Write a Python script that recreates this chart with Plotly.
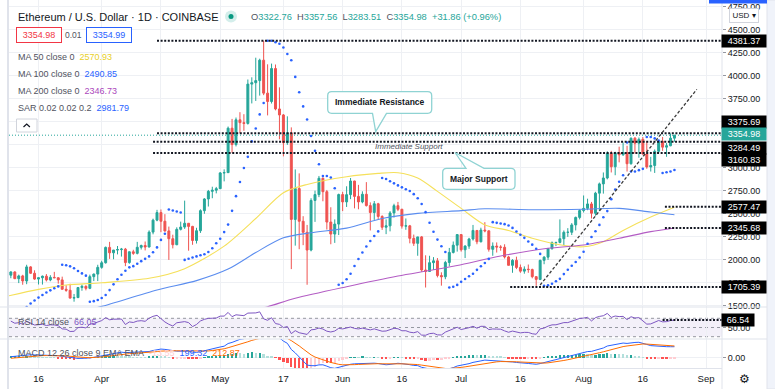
import numpy as np
import pandas as pd
import plotly.graph_objects as go

# ---------------- data ----------------
FIRST_DAY = "2021-03-09"

open_ = [
    1834, 1869, 1796, 1826, 1771, 1924, 1855, 1792, 1806, 1823, 1782, 1810, 1806, 1783, 1681, 1670, 1585, 1590, 1700, 1713, 1691, 1818, 1846,
    1919, 1969, 2136, 2077, 2107, 2112, 2117, 1971, 2088, 2071, 2137, 2156, 2140, 2302, 2432, 2514, 2420, 2315, 2230, 2165, 2332, 2357, 2398, 2364, 2211, 2317, 2535, 2662, 2745, 2757,
    2774, 2945, 2948, 3431, 3253, 3522, 3491, 3483, 3910, 3925, 3948, 4170, 3812, 3721, 4079, 3640, 3575, 3273, 3380, 2440, 2775, 2420, 2300, 2107, 2646, 2710, 2887, 2741, 2411, 2281, 2389,
    2710, 2630, 2709, 2857, 2690, 2630, 2713, 2590, 2515, 2610, 2472, 2355, 2370, 2510, 2589, 2550, 2367, 2370, 2234, 2180, 2250, 1890, 1875, 1970, 1990, 1830, 1817, 1972, 2081, 2160,
    2275, 2110, 2150, 2227, 2320, 2197, 2324, 2316, 2115, 2150, 2140, 2137, 2032, 1941, 1995, 1918, 1878, 1899, 1895, 1818, 1788, 1995, 2030, 2123, 2187, 2190, 2230, 2300, 2300, 2380, 2462,
    2536, 2560, 2608, 2507, 2725, 2826, 2890, 3158, 3012, 3164, 3142, 3165, 3045, 3322, 3268, 3310, 3150, 3010, 3025, 3180, 3287, 3225, 3240, 3322.76,
]
high = [
    1877, 1876, 1840, 1838, 1947, 1932, 1887, 1810, 1830, 1846, 1834, 1870, 1810, 1818, 1725, 1741, 1630, 1704, 1732, 1724, 1840, 1852, 1947,
    1990, 2145, 2196, 2108, 2151, 2130, 2130, 2092, 2110, 2196, 2166, 2200, 2321, 2448, 2544, 2548, 2497, 2362, 2274, 2354, 2416, 2644, 2401, 2370, 2349, 2549, 2671, 2760, 2795, 2793,
    2955, 2984, 3449, 3532, 3547, 3605, 3583, 3960, 3984, 4197, 4186, 4381.37, 4125, 4133, 4123, 3875, 3585, 3560, 3440, 2983, 2940, 2475, 2380, 2670, 2753, 2912, 2895, 2760, 2572, 2440, 2720,
    2740, 2800, 2890, 2860, 2815, 2745, 2845, 2625, 2640, 2620, 2485, 2440, 2530, 2610, 2630, 2555, 2450, 2380, 2275, 2250, 2260, 2050, 2045, 2030, 2020, 1865, 1990, 2130, 2200, 2280,
    2280, 2160, 2240, 2380, 2325, 2350, 2410, 2320, 2190, 2190, 2160, 2170, 2045, 2008, 2035, 1950, 1930, 1950, 1905, 1823, 2003, 2040, 2130, 2200, 2195, 2440, 2320, 2345, 2400, 2470, 2550,
    2700, 2665, 2630, 2740, 2840, 2950, 3180, 3185, 3175, 3230, 3275, 3240, 3330, 3335, 3330, 3335, 3290, 3120, 3200, 3295, 3336, 3270, 3373, 3357.56,
]
low = [
    1801, 1792, 1748, 1730, 1736, 1848, 1784, 1733, 1732, 1766, 1768, 1802, 1742, 1676, 1654, 1581, 1546, 1586, 1665, 1669, 1682, 1770, 1770,
    1904, 1960, 2011, 2007, 2060, 2036, 1932, 1958, 2055, 2060, 2113, 2103, 2136, 2278, 2420, 2301, 2306, 2000, 2125, 2160, 2320, 2337, 2100, 2164, 2178, 2293, 2501, 2580, 2670, 2723,
    2770, 2853, 2945, 3163, 3233, 3376, 3403, 3470, 3700, 3727, 3785, 3790, 3570, 3699, 3625, 3310, 3125, 3250, 1900, 2155, 2116, 2160, 1730, 2093, 2413, 2682, 2637, 2330, 2170, 2185, 2270,
    2530, 2575, 2660, 2560, 2550, 2615, 2580, 2320, 2435, 2440, 2326, 2280, 2310, 2460, 2530, 2340, 2327, 2180, 2152, 2045, 1870, 1700, 1870, 1890, 1810, 1720, 1790, 1930, 2070, 2090,
    2090, 2020, 2120, 2210, 2170, 2190, 2300, 2090, 2045, 2080, 2100, 2015, 1940, 1860, 1900, 1860, 1850, 1860, 1800, 1718, 1780, 1953, 2000, 2110, 2150, 2180, 2160, 2250, 2270, 2320, 2440,
    2515, 2540, 2450, 2480, 2530, 2720, 2875, 2950, 2920, 3060, 3130, 2960, 3035, 3155, 3110, 3145, 2990, 2960, 2945, 3160, 3185, 3120, 3235, 3283.51,
]
close = [
    1869, 1796, 1826, 1771, 1924, 1855, 1792, 1806, 1823, 1782, 1810, 1806, 1783, 1681, 1670, 1585, 1590, 1700, 1713, 1691, 1818, 1846, 1919,
    1969, 2136, 2077, 2107, 2112, 2117, 1971, 2088, 2071, 2137, 2156, 2140, 2302, 2432, 2514, 2420, 2315, 2230, 2165, 2332, 2357, 2398, 2364, 2211, 2317, 2535, 2662, 2745, 2757, 2774,
    2945, 2948, 3431, 3253, 3522, 3491, 3483, 3910, 3925, 3948, 4170, 3812, 3721, 4079, 3640, 3575, 3273, 3380, 2440, 2775, 2420, 2300, 2107, 2646, 2710, 2887, 2741, 2411, 2281, 2389, 2710,
    2630, 2709, 2857, 2690, 2630, 2713, 2590, 2515, 2610, 2472, 2355, 2370, 2510, 2589, 2550, 2367, 2370, 2234, 2180, 2250, 1890, 1875, 1970, 1990, 1830, 1817, 1972, 2081, 2160, 2275,
    2110, 2150, 2227, 2320, 2197, 2324, 2316, 2115, 2150, 2140, 2137, 2032, 1941, 1995, 1918, 1878, 1899, 1895, 1818, 1788, 1995, 2030, 2123, 2187, 2190, 2230, 2300, 2300, 2380, 2462, 2536,
    2560, 2608, 2507, 2725, 2826, 2890, 3158, 3012, 3164, 3142, 3165, 3045, 3322, 3268, 3310, 3150, 3010, 3025, 3180, 3287, 3225, 3240, 3322.76, 3354.98,
]
# closes before the visible window (Feb 1 - Mar 8), used for indicator warm-up
warmup_close = [
    1375, 1515, 1660, 1594, 1720, 1680, 1613, 1750, 1770, 1744, 1784, 1843, 1813, 1805, 1779, 1782, 1846, 1937, 1960, 1920,
    1935, 1781, 1570, 1626, 1475, 1446, 1459, 1417, 1565, 1489, 1574, 1540, 1531, 1655, 1723, 1834,
]

ma50_dates = ["2021-03-07", "2021-03-16", "2021-03-23", "2021-04-01", "2021-04-13", "2021-04-22", "2021-05-02", "2021-05-10",
              "2021-05-17", "2021-05-23", "2021-06-02", "2021-06-10", "2021-06-15", "2021-06-20", "2021-06-25", "2021-07-01",
              "2021-07-07", "2021-07-13", "2021-07-19", "2021-07-26", "2021-08-01", "2021-08-06", "2021-08-11", "2021-08-18", "2021-08-24"]
ma50_vals = [1595, 1680, 1727, 1752, 1800, 1905, 2150, 2450, 2730, 2820, 2904, 2940, 2947, 2890, 2745, 2560,
             2380, 2320, 2235, 2165, 2143, 2198, 2320, 2465, 2571]
ma100_dates = ["2021-03-25", "2021-04-01", "2021-04-15", "2021-04-25", "2021-05-03", "2021-05-10", "2021-05-17", "2021-05-24",
               "2021-06-02", "2021-06-11", "2021-06-20", "2021-07-01", "2021-07-07", "2021-07-19", "2021-08-01", "2021-08-10",
               "2021-08-18", "2021-08-24"]
ma100_vals = [1420, 1495, 1673, 1775, 1900, 2080, 2240, 2295, 2345, 2450, 2505, 2535, 2555, 2545, 2550, 2560, 2520, 2491]
ma200_dates = ["2021-05-08", "2021-05-13", "2021-05-20", "2021-06-02", "2021-06-15", "2021-06-23", "2021-06-30", "2021-07-11",
               "2021-07-23", "2021-08-01", "2021-08-10", "2021-08-18", "2021-08-24"]
ma200_vals = [1440, 1492, 1583, 1709, 1825, 1885, 1940, 2042, 2126, 2162, 2235, 2307, 2347]

# Parabolic SAR (0.02, 0.02, 0.2) state on the first visible day
sar_seed, sar_seed_ep, sar_seed_af = 1380.0, 1877.0, 0.06

level_prices = [4381.37, 3375.69, 3284.49, 3160.83, 2577.47, 2345.68, 1705.39]
level_starts = ["2021-04-15", "2021-04-15", "2021-04-14", "2021-04-14", "2021-08-21 14:00", "2021-08-21 14:00", "2021-07-13 10:00"]
label_shift = [0, 11, -6, -7, 0, 0, 0]
last_price = 3354.98
rsi_level, rsi_level_start = 66.54, "2021-08-21"
trend_x = ["2021-07-21", "2021-08-29 16:00"]
trend_y = [1727, 3853]

price_ticks = [1500, 1750, 2000, 2250, 2500, 2750, 3000, 3250, 3500, 3750, 4000, 4250, 4500, 4750]
price_tick_text = ["1500.00", "1750.00", "2000.00", "2250.00", "2500.00", "2750.00", "3000.00", "", "",
                   "3750.00", "4000.00", "4250.00", "4500.00", "4750.00"]
x_tickvals = ["2021-03-16", "2021-04-01", "2021-04-16", "2021-05-01", "2021-05-17", "2021-06-01",
              "2021-06-16", "2021-07-01", "2021-07-16", "2021-08-01", "2021-08-16", "2021-09-01"]
x_ticktext = ["16", "Apr", "16", "May", "17", "Jun", "16", "Jul", "16", "Aug", "16", "Sep"]

header_ohlc = ["3322.76", "3357.56", "3283.51", "3354.98", "+31.86 (+0.96%)"]
bid_ask = ["3354.98", "0.01", "3354.99"]
legend_vals = ["2570.93", "2490.85", "2346.73", "2981.79"]
rsi_val = "66.05"
macd_vals = ["-13.55", "199.32", "212.87"]

# ---------------- indicators ----------------
dates = pd.date_range(FIRST_DAY, periods=len(close), freq="D")
n0 = len(warmup_close)
s_all = pd.Series(warmup_close + close, dtype=float)

delta = s_all.diff().fillna(0).values
gain = np.clip(delta, 0, None)
loss = np.clip(-delta, 0, None)
def rma(v, n):
    out = np.full(len(v), np.nan)
    out[n] = v[1:n + 1].mean()
    for i in range(n + 1, len(v)):
        out[i] = (out[i - 1] * (n - 1) + v[i]) / n
    return out
ag, al = rma(gain, 14), rma(loss, 14)
rsi = (100 - 100 / (1 + ag / al))[n0:]

ema12 = s_all.ewm(span=12, adjust=False).mean()
ema26 = s_all.ewm(span=26, adjust=False).mean()
macd = ema12 - ema26
sig = macd.ewm(span=9, adjust=False).mean()
hist = (macd - sig).values
hcol = []
for i in range(n0, len(hist)):
    h, hp = hist[i], hist[i - 1]
    if h >= 0:
        hcol.append("#26a69a" if h > hp else "#b2dfdb")
    else:
        hcol.append("#ffcdd2" if h > hp else "#ff5252")

def psar(hi, lo, s0, ep0, af0, step=0.02, amax=0.2):
    sar = [s0]
    up, ep, af = True, ep0, af0
    for i in range(1, len(hi)):
        s = sar[-1] + af * (ep - sar[-1])
        if up:
            s = min(s, lo[i - 1], lo[max(i - 2, 0)])
            if lo[i] < s:
                up, s, ep, af = False, ep, lo[i], step
            elif hi[i] > ep:
                ep, af = hi[i], min(af + step, amax)
        else:
            s = max(s, hi[i - 1], hi[max(i - 2, 0)])
            if hi[i] > s:
                up, s, ep, af = True, ep, hi[i], step
            elif lo[i] < ep:
                ep, af = lo[i], min(af + step, amax)
        sar.append(s)
    return sar
sar = psar(high, low, sar_seed, sar_seed_ep, sar_seed_af)

# ---------------- geometry ----------------
W, H = 775, 389
PL, PR, PT, PB = 9, 722, 0, 368
def px(x):
    return (x - PL) / (PR - PL)
def py(y):
    return 1 - (y - PT) / (PB - PT)

aug1 = pd.Timestamp("2021-08-01")
XPD = 3.95
x_lo = aug1 - pd.Timedelta(days=(583.6 - PL) / XPD)
x_hi = aug1 + pd.Timedelta(days=(PR - 583.6) / XPD)
main_dom = [61 / 368, 1]
rsi_dom = [29 / 368, 61 / 368]
macd_dom = [0, 29 / 368]

FONT = "Liberation Sans, Arial, sans-serif"
TXT = "#131722"
GRID = "#eef0f4"

fig = go.Figure()
fig.add_trace(go.Candlestick(
    x=dates, open=open_, high=high, low=low, close=close,
    increasing=dict(line=dict(color="#26a69a", width=1), fillcolor="#26a69a"),
    decreasing=dict(line=dict(color="#ef5350", width=1), fillcolor="#ef5350"),
    whiskerwidth=0, xaxis="x", yaxis="y", showlegend=False))
for d, v, c in [(ma50_dates, ma50_vals, "#f5e05a"), (ma100_dates, ma100_vals, "#5b8def"), (ma200_dates, ma200_vals, "#b35cc4")]:
    fig.add_trace(go.Scatter(x=d, y=v, mode="lines", line=dict(color=c, width=1.1, shape="spline", smoothing=0.8),
                             xaxis="x", yaxis="y", showlegend=False))
fig.add_trace(go.Scatter(x=dates, y=sar, mode="markers", marker=dict(color="#2962ff", size=2.6),
                         xaxis="x", yaxis="y", showlegend=False))
fig.add_trace(go.Scatter(x=dates, y=rsi, mode="lines", line=dict(color="#7e57c2", width=1),
                         xaxis="x2", yaxis="y2", showlegend=False))
fig.add_trace(go.Bar(x=dates, y=hist[n0:], marker=dict(color=hcol, line=dict(width=0)), width=0.6 * 86400000,
                     xaxis="x3", yaxis="y3", showlegend=False))
fig.add_trace(go.Scatter(x=dates, y=macd.values[n0:], mode="lines", line=dict(color="#2962ff", width=1),
                         xaxis="x3", yaxis="y3", showlegend=False))
fig.add_trace(go.Scatter(x=dates, y=sig.values[n0:], mode="lines", line=dict(color="#ff6d00", width=1),
                         xaxis="x3", yaxis="y3", showlegend=False))

xcommon = dict(range=[x_lo, x_hi], tickvals=x_tickvals, ticktext=x_ticktext, showgrid=True, gridcolor=GRID,
               zeroline=False, fixedrange=True)
shapes = []
ann = []

# RSI band and guide lines
shapes.append(dict(type="rect", xref="paper", yref="y2", x0=0, x1=1, y0=30, y1=70,
                   fillcolor="rgba(126,87,194,0.09)", line=dict(width=0), layer="between"))
for lv in [70, 50, 30]:
    shapes.append(dict(type="line", xref="paper", yref="y2", x0=0, x1=1, y0=lv, y1=lv,
                       line=dict(color="#9598a1", width=1, dash="3px,3px"), layer="between"))

# horizontal levels
for p, st in zip(level_prices, level_starts):
    shapes.append(dict(type="line", xref="x", yref="y", x0=st, x1=x_hi, y0=p, y1=p,
                       line=dict(color="#131722", width=2, dash="2px,1.6px"), layer="above"))
shapes.append(dict(type="line", xref="paper", yref="y", x0=0, x1=1, y0=last_price, y1=last_price,
                   line=dict(color="#26a69a", width=1, dash="1px,2px"), layer="above"))
shapes.append(dict(type="line", xref="x", yref="y2", x0=rsi_level_start, x1=x_hi, y0=rsi_level, y1=rsi_level,
                   line=dict(color="#131722", width=2, dash="2px,1.6px"), layer="above"))
shapes.append(dict(type="line", xref="x", yref="y", x0=trend_x[0], x1=trend_x[1], y0=trend_y[0], y1=trend_y[1],
                   line=dict(color="#3a3a3a", width=1.3, dash="3px,2px"), layer="above"))

# callouts
def callout(x0, x1, y0, y1, tail, tip, on_top, r=4):
    xa, xb = tail
    if on_top:
        pts = [("M", x0 + r, y0), ("L", xa, y0), ("L", tip[0], tip[1]), ("L", xb, y0), ("L", x1 - r, y0),
               ("Q", x1, y0, x1, y0 + r), ("L", x1, y1 - r), ("Q", x1, y1, x1 - r, y1), ("L", x0 + r, y1),
               ("Q", x0, y1, x0, y1 - r), ("L", x0, y0 + r), ("Q", x0, y0, x0 + r, y0)]
    else:
        pts = [("M", x0 + r, y0), ("L", x1 - r, y0), ("Q", x1, y0, x1, y0 + r), ("L", x1, y1 - r),
               ("Q", x1, y1, x1 - r, y1), ("L", xb, y1), ("L", tip[0], tip[1]), ("L", xa, y1), ("L", x0 + r, y1),
               ("Q", x0, y1, x0, y1 - r), ("L", x0, y0 + r), ("Q", x0, y0, x0 + r, y0)]
    path = ""
    for p in pts:
        coords = p[1:]
        segs = [f"{px(coords[k]):.5f},{py(coords[k + 1]):.5f}" for k in range(0, len(coords), 2)]
        path += p[0] + " " + " ".join(segs) + " "
    path += "Z"
    return dict(type="path", xref="paper", yref="paper", path=path, fillcolor="white",
                line=dict(color="#8fd3d3", width=1.3), layer="above")

shapes.append(callout(327.7, 431.7, 91.7, 113.3, (372.5, 386.5), (375.7, 131.7), on_top=False))
shapes.append(callout(442.7, 515, 168.3, 189.3, (466, 484), (455, 152.5), on_top=True))
ann.append(dict(x=px(379.7), y=py(102.5), xref="paper", yref="paper", xanchor="center", yanchor="middle",
                text="<b>Immediate Resistance</b>", showarrow=False, font=dict(family=FONT, size=8.5, color=TXT)))
ann.append(dict(x=px(478.8), y=py(178.8), xref="paper", yref="paper", xanchor="center", yanchor="middle",
                text="<b>Major Support</b>", showarrow=False, font=dict(family=FONT, size=8.5, color=TXT)))
ann.append(dict(x=px(408.5), y=py(146), xref="paper", yref="paper", xanchor="center", yanchor="middle",
                text="<i>Immediate Support</i>", showarrow=False, font=dict(family=FONT, size=8, color="#50535e")))

# pane separators / borders
for yy in [307, 339]:
    shapes.append(dict(type="line", xref="paper", yref="paper", x0=px(0), x1=px(775), y0=py(yy), y1=py(yy),
                       line=dict(color="#e0e3eb", width=1.2), layer="above"))
shapes.append(dict(type="line", xref="paper", yref="paper", x0=px(PR), x1=px(PR), y0=py(0), y1=py(389),
                   line=dict(color="#e0e3eb", width=1), layer="above"))
shapes.append(dict(type="line", xref="paper", yref="paper", x0=px(8), x1=px(8), y0=py(0), y1=py(389),
                   line=dict(color="#e0e3eb", width=2), layer="above"))
shapes.append(dict(type="rect", xref="paper", yref="paper", x0=px(767), x1=px(776), y0=py(0), y1=py(389),
                   fillcolor="#f0f3fa", line=dict(color="#e0e3eb", width=1), layer="above"))
shapes.append(dict(type="rect", xref="paper", yref="paper", x0=px(709), x1=px(767), y0=py(0), y1=py(3.5),
                   fillcolor="#2962ff", line=dict(width=0), layer="above"))

# right price labels
for p, sh in zip(level_prices, label_shift):
    ann.append(dict(x=px(721), y=p, xref="paper", yref="y", yshift=sh, text=f"{p:.2f}", showarrow=False,
                    xanchor="left", yanchor="middle", width=42, height=10, bgcolor="#000000",
                    font=dict(family=FONT, size=9, color="white")))
ann.append(dict(x=px(721), y=last_price, xref="paper", yref="y", yshift=1, text=f"{last_price:.2f}", showarrow=False,
                xanchor="left", yanchor="middle", width=42, height=10, bgcolor="#26a69a",
                font=dict(family=FONT, size=9, color="white")))
ann.append(dict(x=px(721), y=rsi_level, xref="paper", yref="y2", text=f"{rsi_level:.2f}", showarrow=False,
                xanchor="left", yanchor="middle", width=30, height=10, bgcolor="#000000",
                font=dict(family=FONT, size=9, color="white")))

# header
ann.append(dict(x=px(16), y=py(16.5), xref="paper", yref="paper", xanchor="left", yanchor="middle", showarrow=False,
                text="Ethereum / U.S. Dollar · 1D · COINBASE", font=dict(family=FONT, size=11, color=TXT)))
shapes.append(dict(type="circle", xref="paper", yref="paper", x0=px(225), x1=px(237), y0=py(10.5), y1=py(22.5),
                   fillcolor="#d4eeeb", line=dict(width=0), layer="above"))
shapes.append(dict(type="circle", xref="paper", yref="paper", x0=px(228.5), x1=px(233.5), y0=py(14), y1=py(19),
                   fillcolor="#089981", line=dict(width=0), layer="above"))
G = "#26a69a"
nb = "\u00a0"
ohlc_txt = (f"O<span style='color:{G}'>{header_ohlc[0]}</span>{nb}{nb}H<span style='color:{G}'>{header_ohlc[1]}</span>"
            f"{nb}{nb}L<span style='color:{G}'>{header_ohlc[2]}</span>{nb}{nb}C<span style='color:{G}'>{header_ohlc[3]}</span>"
            f"{nb}{nb}<span style='color:{G}'>{header_ohlc[4]}</span>")
ann.append(dict(x=px(249), y=py(16.5), xref="paper", yref="paper", xanchor="left", yanchor="middle", showarrow=False,
                text=ohlc_txt, font=dict(family=FONT, size=9.3, color="#50535e")))
ann.append(dict(x=px(38.5), y=py(35.5), xref="paper", yref="paper", xanchor="center", yanchor="middle",
                showarrow=False, text=bid_ask[0],
                width=42, height=12, bordercolor="#f23645", borderwidth=1, bgcolor="white",
                font=dict(family=FONT, size=9, color="#f23645")))
ann.append(dict(x=px(73), y=py(35.5), xref="paper", yref="paper", xanchor="center", yanchor="middle",
                showarrow=False, text=bid_ask[1], font=dict(family=FONT, size=8.5, color="#50535e")))
ann.append(dict(x=px(108.5), y=py(35.5), xref="paper", yref="paper", xanchor="center", yanchor="middle",
                showarrow=False, text=bid_ask[2],
                width=42, height=12, bordercolor="#2962ff", borderwidth=1, bgcolor="white",
                font=dict(family=FONT, size=9, color="#2962ff")))

legend_rows = [("MA 50 close 0", legend_vals[0], "#e8cf2a", 56.7), ("MA 100 close 0", legend_vals[1], "#2962ff", 74),
               ("MA 200 close 0", legend_vals[2], "#ab47bc", 91), ("SAR 0.02 0.02 0.2", legend_vals[3], "#2962ff", 108.3)]
for lab, val, col, yy in legend_rows:
    ann.append(dict(x=px(16), y=py(yy), xref="paper", yref="paper", xanchor="left", yanchor="middle", showarrow=False,
                    text=f"{lab}{nb}{nb}<span style='color:{col}'>{val}</span>",
                    font=dict(family=FONT, size=9, color="#50535e")))
shapes.append(dict(type="rect", xref="paper", yref="paper", x0=px(16.5), x1=px(37), y0=py(119), y1=py(132),
                   fillcolor="white", line=dict(color="#d1d4dc", width=1), layer="above"))
shapes.append(dict(type="path", xref="paper", yref="paper",
                   path=f"M {px(23.5)},{py(127)} L {px(26.7)},{py(124)} L {px(29.9)},{py(127)}",
                   line=dict(color=TXT, width=1.2), layer="above"))

ann.append(dict(x=px(16), y=py(321.5), xref="paper", yref="paper", xanchor="left", yanchor="middle", showarrow=False,
                text=f"RSI 14 close{nb}{nb}<span style='color:#7e57c2'>{rsi_val}</span>",
                font=dict(family=FONT, size=9, color="#50535e")))
ann.append(dict(x=px(16), y=py(352.5), xref="paper", yref="paper", xanchor="left", yanchor="middle", showarrow=False,
                text=(f"MACD 12 26 close 9 EMA EMA{nb}{nb}<span style='color:#ffcdd2'>{macd_vals[0]}</span>{nb}{nb}"
                      f"<span style='color:#2962ff'>{macd_vals[1]}</span>{nb}{nb}<span style='color:#ff6d00'>{macd_vals[2]}</span>"),
                font=dict(family=FONT, size=9, color="#50535e")))

ann.append(dict(x=px(743.5), y=py(15.5), xref="paper", yref="paper", xanchor="center", yanchor="middle",
                showarrow=False, text="USD ▾",
                width=26, height=11, bordercolor="#d1d4dc", borderwidth=1, bgcolor="white",
                font=dict(family=FONT, size=8, color=TXT)))
ann.append(dict(x=px(744), y=py(378.5), xref="paper", yref="paper", xanchor="center", yanchor="middle",
                showarrow=False, text="⚙", font=dict(family="DejaVu Sans", size=12, color=TXT)))

fig.update_layout(
    width=W, height=H, margin=dict(l=PL, r=W - PR, t=PT, b=H - PB),
    paper_bgcolor="white", plot_bgcolor="white", showlegend=False, bargap=0,
    font=dict(family=FONT, size=9, color=TXT),
    xaxis=dict(**xcommon, anchor="y", showticklabels=False, rangeslider=dict(visible=False)),
    xaxis2=dict(**xcommon, anchor="y2", matches="x", showticklabels=False),
    xaxis3=dict(**xcommon, anchor="y3", matches="x", showticklabels=True, ticks="outside", ticklen=2,
                tickcolor="rgba(0,0,0,0)", tickfont=dict(family=FONT, size=9.5, color=TXT),
                showline=True, linecolor="#e0e3eb"),
    yaxis=dict(domain=main_dom, range=[1488.3, 4823.8], side="right", tickvals=price_ticks, ticktext=price_tick_text,
               showgrid=True, gridcolor=GRID, zeroline=False, ticks="outside", ticklen=3, tickcolor="#9598a1",
               tickfont=dict(family=FONT, size=9, color=TXT), fixedrange=True),
    yaxis2=dict(domain=rsi_dom, range=[25.0, 94.6], side="right", tickvals=[50], tickformat=".2f",
                showgrid=False, zeroline=False, ticks="outside", ticklen=3, tickcolor="#9598a1",
                tickfont=dict(family=FONT, size=9, color=TXT), fixedrange=True),
    yaxis3=dict(domain=macd_dom, range=[-177, 336], side="right", tickvals=[0], tickformat=".2f",
                showgrid=True, gridcolor=GRID, zeroline=False, ticks="outside", ticklen=3, tickcolor="#9598a1",
                tickfont=dict(family=FONT, size=9, color=TXT), fixedrange=True),
    shapes=shapes, annotations=ann,
)
fig.write_html("out.html", config={"displayModeBar": False},
               post_script="document.body.style.margin='0px';document.body.style.overflow='hidden';")
